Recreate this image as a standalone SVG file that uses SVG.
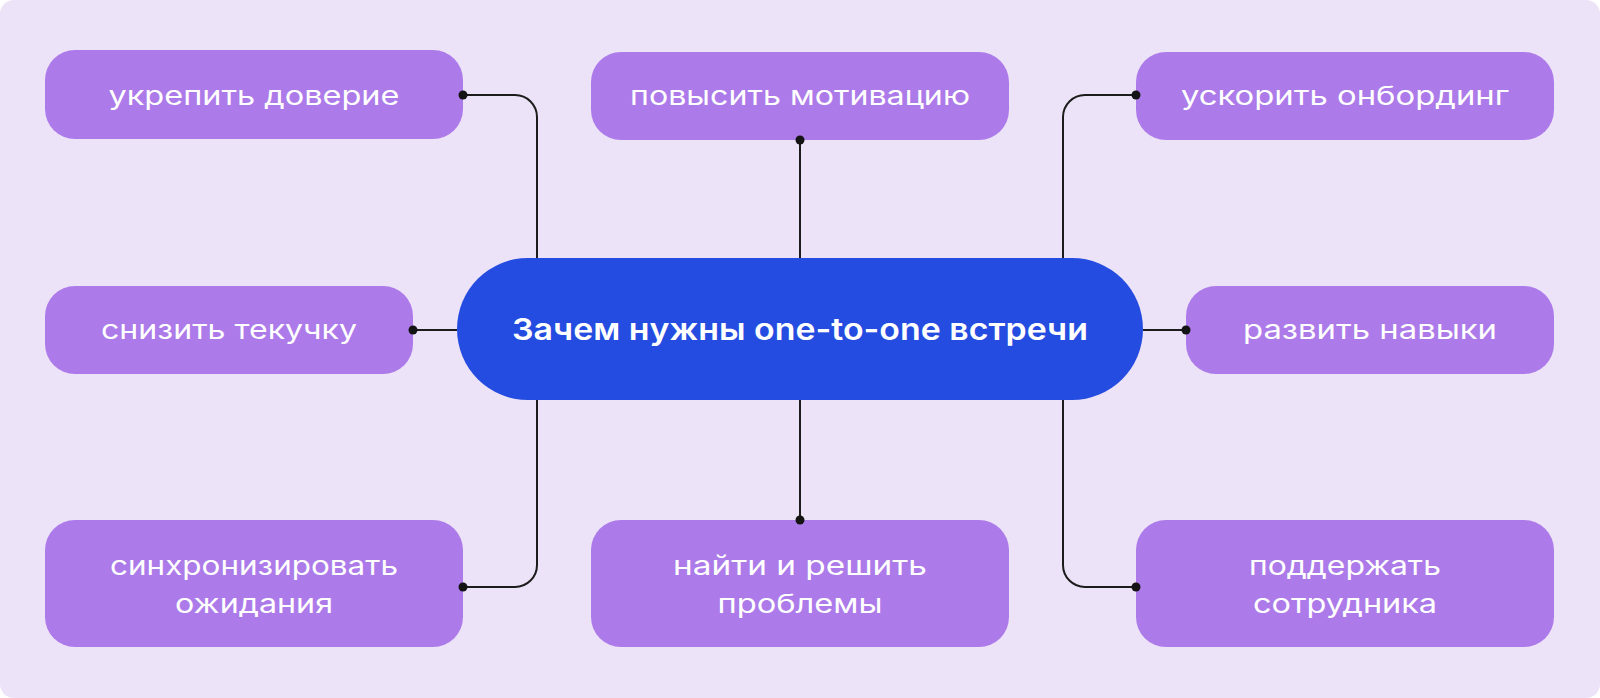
<svg xmlns="http://www.w3.org/2000/svg" width="1600" height="698" viewBox="0 0 1600 698">
  <style>
    .node { fill: #AD7BE9; }
    .hub { fill: #244CE0; }
    .lbl { font-family: Inter, "DejaVu Sans", sans-serif; font-size: 26px; fill: #FFFFFF; text-anchor: middle; }
    .hublbl { font-family: Inter, "DejaVu Sans", sans-serif; font-size: 30px; font-weight: 600; fill: #FFFFFF; text-anchor: middle; }
    .wire { fill: none; stroke: #1C1C1C; stroke-width: 2; }
    .dot { fill: #141414; }
  </style>
  <rect x="0" y="0" width="1600" height="698" rx="14" fill="#EDE3F8"/>

  <g id="connectors">
    <path class="wire" d="M463,95 H515 A22,22 0 0 1 537,117 V258"/>
    <path class="wire" d="M1136,95 H1085 A22,22 0 0 0 1063,117 V258"/>
    <path class="wire" d="M800,140 V258"/>
    <path class="wire" d="M413,330 H457"/>
    <path class="wire" d="M1143,330 H1186"/>
    <path class="wire" d="M537,400 V565 A22,22 0 0 1 515,587 H463"/>
    <path class="wire" d="M800,400 V520"/>
    <path class="wire" d="M1063,400 V565 A22,22 0 0 0 1085,587 H1136"/>
  </g>

  <g id="hub">
    <rect class="hub" x="457" y="258" width="686" height="142" rx="71"/>
    <text class="hublbl" x="800" y="340" textLength="576" lengthAdjust="spacingAndGlyphs">Зачем нужны one-to-one встречи</text>
  </g>

  <g id="node-trust">
    <rect class="node" x="45" y="50" width="418" height="89" rx="30"/>
    <text class="lbl" x="254" y="105" textLength="291" lengthAdjust="spacingAndGlyphs">укрепить доверие</text>
  </g>
  <g id="node-motivation">
    <rect class="node" x="591" y="52" width="418" height="88" rx="30"/>
    <text class="lbl" x="800" y="105" textLength="340" lengthAdjust="spacingAndGlyphs">повысить мотивацию</text>
  </g>
  <g id="node-onboarding">
    <rect class="node" x="1136" y="52" width="418" height="88" rx="30"/>
    <text class="lbl" x="1345" y="105" textLength="328" lengthAdjust="spacingAndGlyphs">ускорить онбординг</text>
  </g>
  <g id="node-turnover">
    <rect class="node" x="45" y="286" width="368" height="88" rx="30"/>
    <text class="lbl" x="229" y="339" textLength="256" lengthAdjust="spacingAndGlyphs">снизить текучку</text>
  </g>
  <g id="node-skills">
    <rect class="node" x="1186" y="286" width="368" height="88" rx="30"/>
    <text class="lbl" x="1370" y="339" textLength="254" lengthAdjust="spacingAndGlyphs">развить навыки</text>
  </g>
  <g id="node-sync">
    <rect class="node" x="45" y="520" width="418" height="127" rx="30"/>
    <text class="lbl" x="254" y="575" textLength="288" lengthAdjust="spacingAndGlyphs">синхронизировать</text>
    <text class="lbl" x="254" y="613" textLength="158" lengthAdjust="spacingAndGlyphs">ожидания</text>
  </g>
  <g id="node-problems">
    <rect class="node" x="591" y="520" width="418" height="127" rx="30"/>
    <text class="lbl" x="800" y="575" textLength="254" lengthAdjust="spacingAndGlyphs">найти и решить</text>
    <text class="lbl" x="800" y="613" textLength="165" lengthAdjust="spacingAndGlyphs">проблемы</text>
  </g>
  <g id="node-support">
    <rect class="node" x="1136" y="520" width="418" height="127" rx="30"/>
    <text class="lbl" x="1345" y="575" textLength="192" lengthAdjust="spacingAndGlyphs">поддержать</text>
    <text class="lbl" x="1345" y="613" textLength="184" lengthAdjust="spacingAndGlyphs">сотрудника</text>
  </g>

  <g id="dots">
    <circle class="dot" cx="463" cy="95" r="4.5"/>
    <circle class="dot" cx="800" cy="140" r="4.5"/>
    <circle class="dot" cx="1136" cy="95" r="4.5"/>
    <circle class="dot" cx="413" cy="330" r="4.5"/>
    <circle class="dot" cx="1186" cy="330" r="4.5"/>
    <circle class="dot" cx="463" cy="587" r="4.5"/>
    <circle class="dot" cx="800" cy="520" r="4.5"/>
    <circle class="dot" cx="1136" cy="587" r="4.5"/>
  </g>
</svg>
